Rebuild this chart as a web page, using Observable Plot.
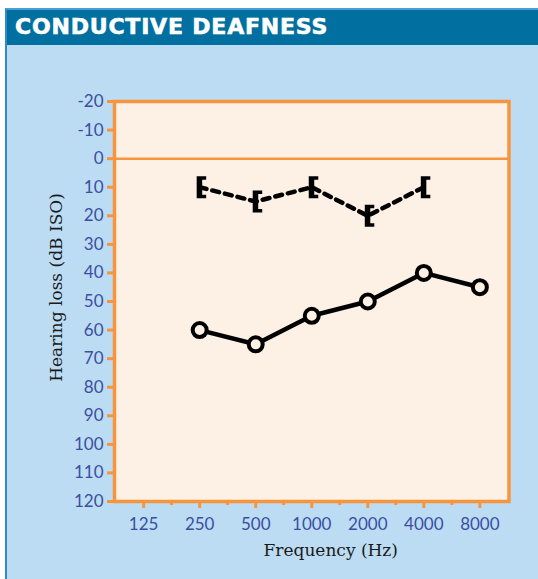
<!DOCTYPE html>
<html>
<head>
<meta charset="utf-8">
<script src="https://cdn.jsdelivr.net/npm/d3@7"></script>
<script src="https://cdn.jsdelivr.net/npm/@observablehq/plot@0.6"></script>
<style>
  html, body { margin: 0; padding: 0; background: #ffffff; width: 538px; height: 579px; overflow: hidden; }
  #panel { position: absolute; left: 5px; top: 8px; width: 531px; height: 569px;
           border-left: 2px solid #2f8ac4; border-top: 2px solid #4aa0d5; background: #bbdcf3; }
  #header { position: absolute; left: 0; top: 0; right: 0; height: 35px; background: #0170a0; }
  #title { position: absolute; left: 8px; top: 6px; margin: 0; color: #ffffff;
           font-family: "DejaVu Sans", sans-serif; font-weight: bold; font-size: 22px; line-height: 22px;
           letter-spacing: 0.8px; white-space: nowrap; -webkit-text-stroke: 0.6px #ffffff; }
  #chart { position: absolute; left: 0; top: 45px; }
</style>
</head>
<body>
<div id="panel"><div id="header"><h1 id="title">CONDUCTIVE DEAFNESS</h1></div></div>
<div id="chart"></div>
<script>
// ---- data ----
const freqLabels = ["125", "250", "500", "1000", "2000", "4000", "8000"];
const yTicks = [-20, -10, 0, 10, 20, 30, 40, 50, 60, 70, 80, 90, 100, 110, 120];

const airFreqs = ["250", "500", "1000", "2000", "4000", "8000"];
const airLoss = [60, 65, 55, 50, 40, 45];

const boneFreqs = ["250", "500", "1000", "2000", "4000"];
const boneLoss = [10, 15, 10, 20, 10];

const xLabel = "Frequency (Hz)";
const yLabel = "Hearing loss (dB ISO)";

// ---- style ----
const orange = "#f7953f";
const cream = "#fdf0e5";
const tickBlue = "#3b4ea2";

const air = airFreqs.map((f, i) => ({freq: f, idx: freqLabels.indexOf(f), loss: airLoss[i]}));
const bone = boneFreqs.map((f, i) => ({freq: f, idx: freqLabels.indexOf(f), loss: boneLoss[i]}));
const majorTicks = freqLabels.map((_, i) => i);
const minorTicks = freqLabels.slice(1).map((_, i) => i + 0.5);

// "[" bone-conduction symbol
const bracket = {
  draw(ctx) {
    ctx.moveTo(-3, -11);
    ctx.lineTo(6.5, -11);
    ctx.lineTo(6.5, -7.5);
    ctx.lineTo(2.5, -7.5);
    ctx.lineTo(2.5, 7.5);
    ctx.lineTo(6.5, 7.5);
    ctx.lineTo(6.5, 11);
    ctx.lineTo(-3, 11);
    ctx.closePath();
  }
};

const chart = Plot.plot({
  width: 538,
  height: 534,
  marginLeft: 114,
  marginRight: 29.5,
  marginTop: 56,
  marginBottom: 78,
  style: {background: "transparent", fontFamily: "Lato, sans-serif", fontSize: "17px", overflow: "visible"},
  x: {type: "linear", domain: [-0.52, 6.52]},
  y: {domain: [-20, 120], reverse: true},
  marks: [
    Plot.frame({fill: cream}),
    Plot.ruleY([0], {stroke: orange, strokeWidth: 2.5}),
    Plot.axisY({ticks: yTicks, tickFormat: d => String(d), tickSize: 7, tickPadding: 4, stroke: orange, strokeWidth: 3,
                fill: tickBlue, fontSize: 17, label: null}),
    Plot.axisX({ticks: majorTicks, tickFormat: i => freqLabels[i], tickSize: 7, tickPadding: 9,
                stroke: orange, strokeWidth: 3, fill: tickBlue, fontSize: 17, label: null}),
    Plot.axisX({ticks: minorTicks, tickFormat: () => "", tickSize: 4, stroke: orange, strokeWidth: 3, label: null}),
    Plot.line(bone, {x: "idx", y: "loss", stroke: "#000", strokeWidth: 4.5, strokeDasharray: "7,6"}),
    Plot.dot(bone, {x: "idx", y: "loss", symbol: bracket, fill: "#000", stroke: "none", r: 6}),
    Plot.line(air, {x: "idx", y: "loss", stroke: "#000", strokeWidth: 4.5}),
    Plot.dot(air, {x: "idx", y: "loss", r: 7, fill: cream, stroke: "#000", strokeWidth: 4}),
    Plot.frame({stroke: orange, strokeWidth: 3.5}),
    Plot.text([xLabel], {text: d => d, frameAnchor: "bottom", textAnchor: "middle", lineAnchor: "middle",
                         dy: 49, dx: 19, fontFamily: "DejaVu Serif", fontSize: 17, fill: "#1a1a1a"}),
    Plot.text([yLabel], {text: d => d, frameAnchor: "left", textAnchor: "middle", lineAnchor: "middle",
                         rotate: -90, dx: -58, dy: -14, fontFamily: "DejaVu Serif", fontSize: 17, fill: "#1a1a1a"})
  ]
});
document.getElementById("chart").appendChild(chart);
</script>
</body>
</html>
